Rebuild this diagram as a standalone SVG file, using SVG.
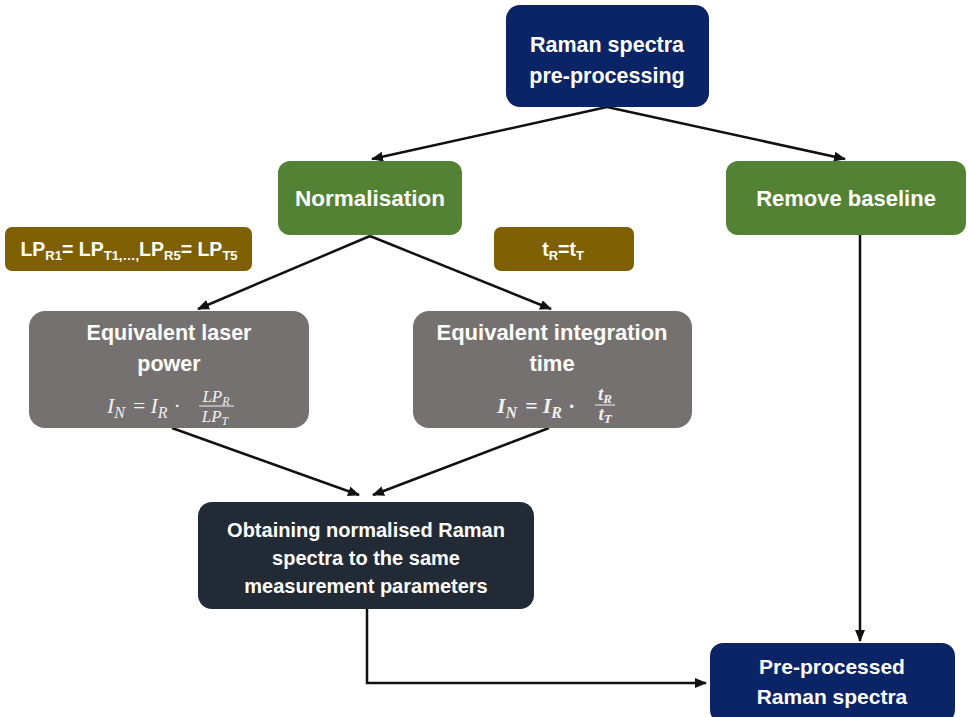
<svg xmlns="http://www.w3.org/2000/svg" width="969" height="717" viewBox="0 0 969 717">
<defs>
<style>
.lbl{font-family:"Liberation Sans",Arial,sans-serif;font-weight:bold;fill:#ffffff;text-anchor:middle}
.math{font-family:"Liberation Serif","Times New Roman",serif;font-style:italic;fill:#f0f0f0}
.conn{stroke:#111111;stroke-width:2.5;fill:none}
</style>
<marker id="ah" markerWidth="12" markerHeight="10" refX="11" refY="5" orient="auto" markerUnits="userSpaceOnUse">
<path d="M0,0 L12,5 L0,10 Z" fill="#111111"/>
</marker>
</defs>
<rect width="969" height="717" fill="#ffffff"/>

<g id="connectors">
<line class="conn" x1="607" y1="107" x2="372" y2="159" marker-end="url(#ah)"/>
<line class="conn" x1="607" y1="107" x2="845" y2="159" marker-end="url(#ah)"/>
<line class="conn" x1="370" y1="236" x2="198" y2="309" marker-end="url(#ah)"/>
<line class="conn" x1="370" y1="236" x2="551" y2="309" marker-end="url(#ah)"/>
<line class="conn" x1="172" y1="428" x2="359" y2="495" marker-end="url(#ah)"/>
<line class="conn" x1="549" y1="428" x2="373" y2="495" marker-end="url(#ah)"/>
<line class="conn" x1="860" y1="235" x2="860" y2="641" marker-end="url(#ah)"/>
<polyline class="conn" points="367,609 367,683 706,683" marker-end="url(#ah)"/>
</g>

<g id="raman-preprocessing">
<rect x="506" y="5" width="203" height="102" rx="14" fill="#0b2465"/>
<text class="lbl" x="607" y="52" font-size="21.5">Raman spectra</text>
<text class="lbl" x="607" y="83" font-size="21.5">pre-processing</text>
</g>

<g id="normalisation">
<rect x="278" y="161" width="184" height="74" rx="12" fill="#548235"/>
<text class="lbl" x="370" y="206" font-size="22.5">Normalisation</text>
</g>

<g id="remove-baseline">
<rect x="726" y="161" width="240" height="74" rx="12" fill="#548235"/>
<text class="lbl" x="846" y="206" font-size="22">Remove baseline</text>
</g>

<g id="lp-condition">
<rect x="5" y="227" width="247" height="44" rx="7" fill="#7f6000"/>
<text class="lbl" x="129" y="256" font-size="19.5">LP<tspan font-size="13" dy="4">R1</tspan><tspan dy="-4">= LP</tspan><tspan font-size="13" dy="4">T1,…,</tspan><tspan dy="-4">LP</tspan><tspan font-size="13" dy="4">R5</tspan><tspan dy="-4">= LP</tspan><tspan font-size="13" dy="4">T5</tspan></text>
</g>

<g id="t-condition">
<rect x="494" y="227" width="140" height="44" rx="7" fill="#7f6000"/>
<text class="lbl" x="563" y="256" font-size="19.5">t<tspan font-size="13" dy="4">R</tspan><tspan dy="-4">=t</tspan><tspan font-size="13" dy="4">T</tspan></text>
</g>

<g id="equivalent-laser-power">
<rect x="29" y="311" width="280" height="117" rx="16" fill="#767171"/>
<text class="lbl" x="169" y="340" font-size="21.5">Equivalent laser</text>
<text class="lbl" x="169" y="371" font-size="21.5">power</text>
<text class="math" x="107" y="413" font-size="22">I<tspan font-size="16" dy="5">N</tspan><tspan font-style="normal" dy="-5" dx="8">=</tspan><tspan dx="5">I</tspan><tspan font-size="16" dy="5">R</tspan><tspan font-style="normal" dy="-5" dx="6">·</tspan></text>
<text class="math" x="216" y="402" font-size="17" text-anchor="middle">LP<tspan font-size="12" dy="3">R</tspan></text>
<line x1="199" y1="406" x2="234" y2="406" stroke="#f0f0f0" stroke-width="1"/>
<text class="math" x="215" y="422" font-size="17" text-anchor="middle">LP<tspan font-size="12" dy="3">T</tspan></text>
</g>

<g id="equivalent-integration-time">
<rect x="413" y="311" width="279" height="117" rx="16" fill="#767171"/>
<text class="lbl" x="552" y="340" font-size="22">Equivalent integration</text>
<text class="lbl" x="552" y="371" font-size="22">time</text>
<text class="math" x="497" y="413" font-size="22" font-weight="bold">I<tspan font-size="16" dy="5">N</tspan><tspan font-style="normal" dy="-5" dx="8">=</tspan><tspan dx="5">I</tspan><tspan font-size="16" dy="5">R</tspan><tspan font-style="normal" dy="-5" dx="6">·</tspan></text>
<text class="math" x="605" y="400" font-size="19" font-weight="bold" text-anchor="middle">t<tspan font-size="13" dy="3">R</tspan></text>
<line x1="595" y1="405" x2="615" y2="405" stroke="#f0f0f0" stroke-width="1"/>
<text class="math" x="605" y="420" font-size="19" font-weight="bold" text-anchor="middle">t<tspan font-size="13" dy="3">T</tspan></text>
</g>

<g id="obtaining-normalised">
<rect x="198" y="502" width="336" height="107" rx="14" fill="#222a35"/>
<text class="lbl" x="366" y="537" font-size="20">Obtaining normalised Raman</text>
<text class="lbl" x="366" y="565" font-size="20">spectra to the same</text>
<text class="lbl" x="366" y="593" font-size="20">measurement parameters</text>
</g>

<g id="pre-processed">
<rect x="710" y="643" width="245" height="80" rx="13" fill="#0b2465"/>
<text class="lbl" x="832" y="674" font-size="21">Pre-processed</text>
<text class="lbl" x="832" y="704" font-size="21">Raman spectra</text>
</g>
</svg>
